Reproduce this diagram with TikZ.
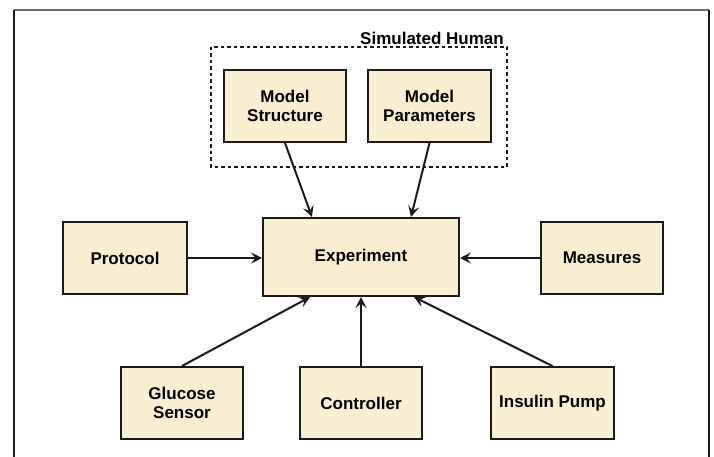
\documentclass[tikz,border=0pt]{standalone}
\usepackage{fontspec}
\setmainfont{Liberation Sans}
\usetikzlibrary{arrows.meta,calc}
\definecolor{boxfill}{RGB}{250,239,208}
\definecolor{boxline}{RGB}{26,26,26}
\definecolor{frametop}{RGB}{110,110,110}
\tikzset{
  blk/.style={draw=boxline, line width=2pt, fill=boxfill, align=center,
    font=\fontsize{17}{19.5}\selectfont\bfseries, inner sep=0pt},
  conn/.style={draw=boxline, line width=2pt,
    -{Stealth[length=11pt,width=11pt,inset=4.5pt]}},
}
\begin{document}
\begin{tikzpicture}[x=1pt,y=-1pt]
\useasboundingbox (0,0) rectangle (714,457);
% frame
\draw[frametop, line width=2.5pt] (13.5,10) -- (709,10);
\draw[boxline, line width=2pt] (13.5,10) -- (13.5,457);
\draw[boxline, line width=2pt] (709,10) -- (709,457);
% dashed group
\draw[boxline, line width=2pt, dash pattern=on 3.5pt off 3pt] (211,47) rectangle (507,167);
\node[anchor=east, font=\fontsize{17}{19.5}\selectfont\bfseries, inner sep=0pt] (sh) at (504,38) {Simulated Human};
% nodes
\node[blk, minimum width=122pt, minimum height=72pt] (ms) at (285,106) {Model\\Structure};
\node[blk, minimum width=123pt, minimum height=72pt] (mp) at (429.5,106) {Model\\Parameters};
\node[blk, minimum width=196pt, minimum height=78pt] (exp) at (361,257) {Experiment};
\node[blk, minimum width=124pt, minimum height=72pt] (prot) at (125,258) {Protocol};
\node[blk, minimum width=122pt, minimum height=72pt] (meas) at (602,258) {Measures};
\node[blk, minimum width=122pt, minimum height=72pt] (gs) at (182,403) {Glucose\\Sensor};
\node[blk, minimum width=122pt, minimum height=72pt] (ctrl) at (361,403) {Controller};
\node[blk, minimum width=123pt, minimum height=72pt] (ip) at (552.5,403) {Insulin Pump};
% connectors
\draw[conn] (ms.south) -- ($(exp.north)+(-49,0)$);
\draw[conn] (mp.south) -- ($(exp.north)+(50,0)$);
\draw[conn] (prot.east) -- (prot.east -| exp.west);
\draw[conn] (meas.west) -- (meas.west -| exp.east);
\draw[conn] (gs.north) -- ($(exp.south)+(-51,0)$);
\draw[conn] (ctrl.north) -- (exp.south);
\draw[conn] (ip.north) -- ($(exp.south)+(53,0)$);
\end{tikzpicture}
\end{document}
